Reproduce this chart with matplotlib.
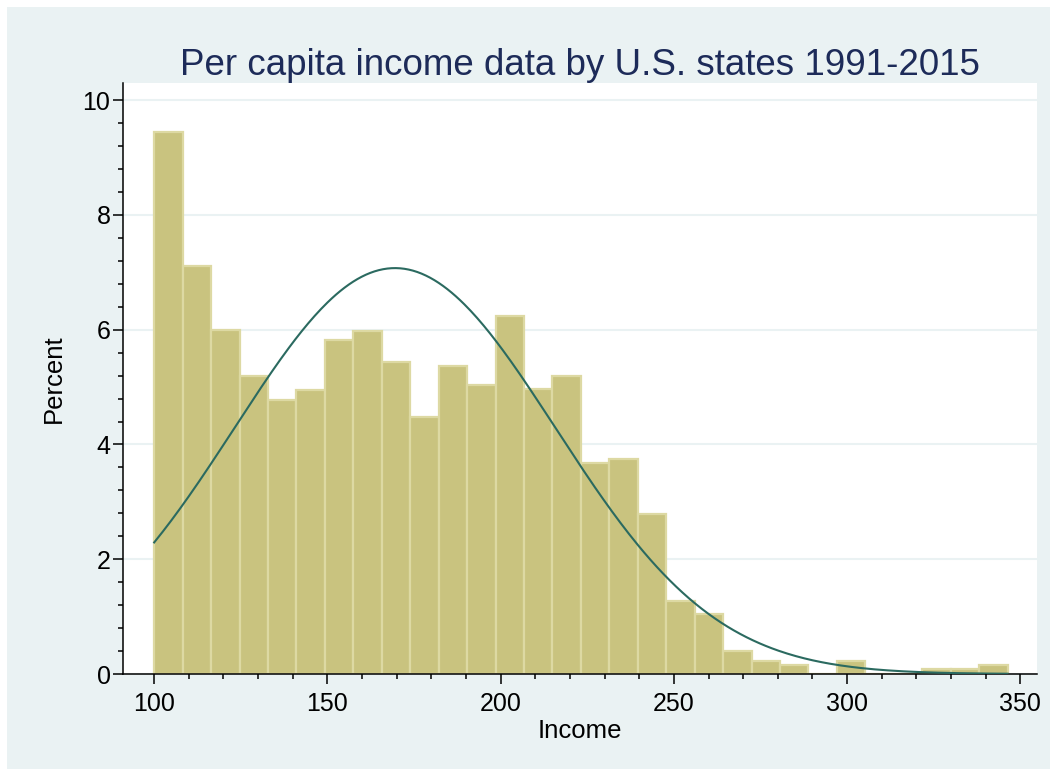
import numpy as np
import matplotlib
matplotlib.use("Agg")
import matplotlib.pyplot as plt
from matplotlib.patches import Rectangle
from matplotlib.ticker import MultipleLocator

plt.rcParams["font.family"] = ["Liberation Sans", "DejaVu Sans"]

# histogram: 30 bins over the income range, heights in percent
income_min, income_max = 100.0, 346.3
n_bins = 30
percent = [9.44, 7.11, 6.00, 5.19, 4.78, 4.95, 5.82, 5.98, 5.44, 4.48,
           5.36, 5.04, 6.24, 4.96, 5.19, 3.68, 3.75, 2.79, 1.27, 1.04,
           0.40, 0.23, 0.16, 0.00, 0.23, 0.00, 0.00, 0.08, 0.08, 0.16]

# fitted normal overlay
income_mean = 169.5
income_sd = 46.3

x_ticks = [100, 150, 200, 250, 300, 350]
y_ticks = [0, 2, 4, 6, 8, 10]

BG = "#EAF2F3"
BAR = "#C9C37F"
BAR_EDGE = "#DDD9A3"
LINE = "#2B6A60"
TITLE = "#1D2B59"

fig = plt.figure(figsize=(10.5, 7.69), dpi=100, facecolor="white")
fig.patches.append(Rectangle((7 / 1050, 0), 1 - 7 / 1050, 1 - 7 / 769,
                             transform=fig.transFigure, facecolor=BG,
                             edgecolor="none", zorder=-10))

ax = fig.add_axes([123 / 1050, 1 - 674 / 769, (1037 - 123) / 1050, (674 - 83) / 769])
ax.set_facecolor("white")

edges = np.linspace(income_min, income_max, n_bins + 1)
width = edges[1] - edges[0]
ax.bar(edges[:-1], percent, width=width, align="edge", color=BAR,
       edgecolor=BAR_EDGE, linewidth=1.6, zorder=2)

xs = np.linspace(income_min, income_max, 400)
dens = 100 * width * np.exp(-0.5 * ((xs - income_mean) / income_sd) ** 2) / (income_sd * np.sqrt(2 * np.pi))
ax.plot(xs, dens, color=LINE, linewidth=1.5, zorder=3)

ax.set_xlim(91, 354.8)
ax.set_ylim(0, 10.3)
ax.set_xticks(x_ticks)
ax.set_yticks(y_ticks)
ax.xaxis.set_minor_locator(MultipleLocator(10))
ax.yaxis.set_minor_locator(MultipleLocator(0.4))
ax.grid(axis="y", which="major", color=BG, linewidth=1.5, zorder=0)
ax.set_axisbelow(True)

for s in ["top", "right"]:
    ax.spines[s].set_visible(False)
for s in ["left", "bottom"]:
    ax.spines[s].set_linewidth(1.1)
    ax.spines[s].set_color("black")

ax.tick_params(which="major", length=7, width=1.1, labelsize=18)
ax.tick_params(which="minor", length=3.5, width=1.1)
ax.tick_params(axis="x", which="major", pad=6)
ax.tick_params(axis="y", which="major", pad=2)

ax.set_xlabel("Income", fontsize=18.5, labelpad=2)
ax.set_ylabel("Percent", fontsize=18.5, labelpad=12)
ax.set_title("Per capita income data by U.S. states 1991-2015", fontsize=26.5,
             color=TITLE, pad=4.5)

fig.savefig("out.png", dpi=100, facecolor=fig.get_facecolor())
